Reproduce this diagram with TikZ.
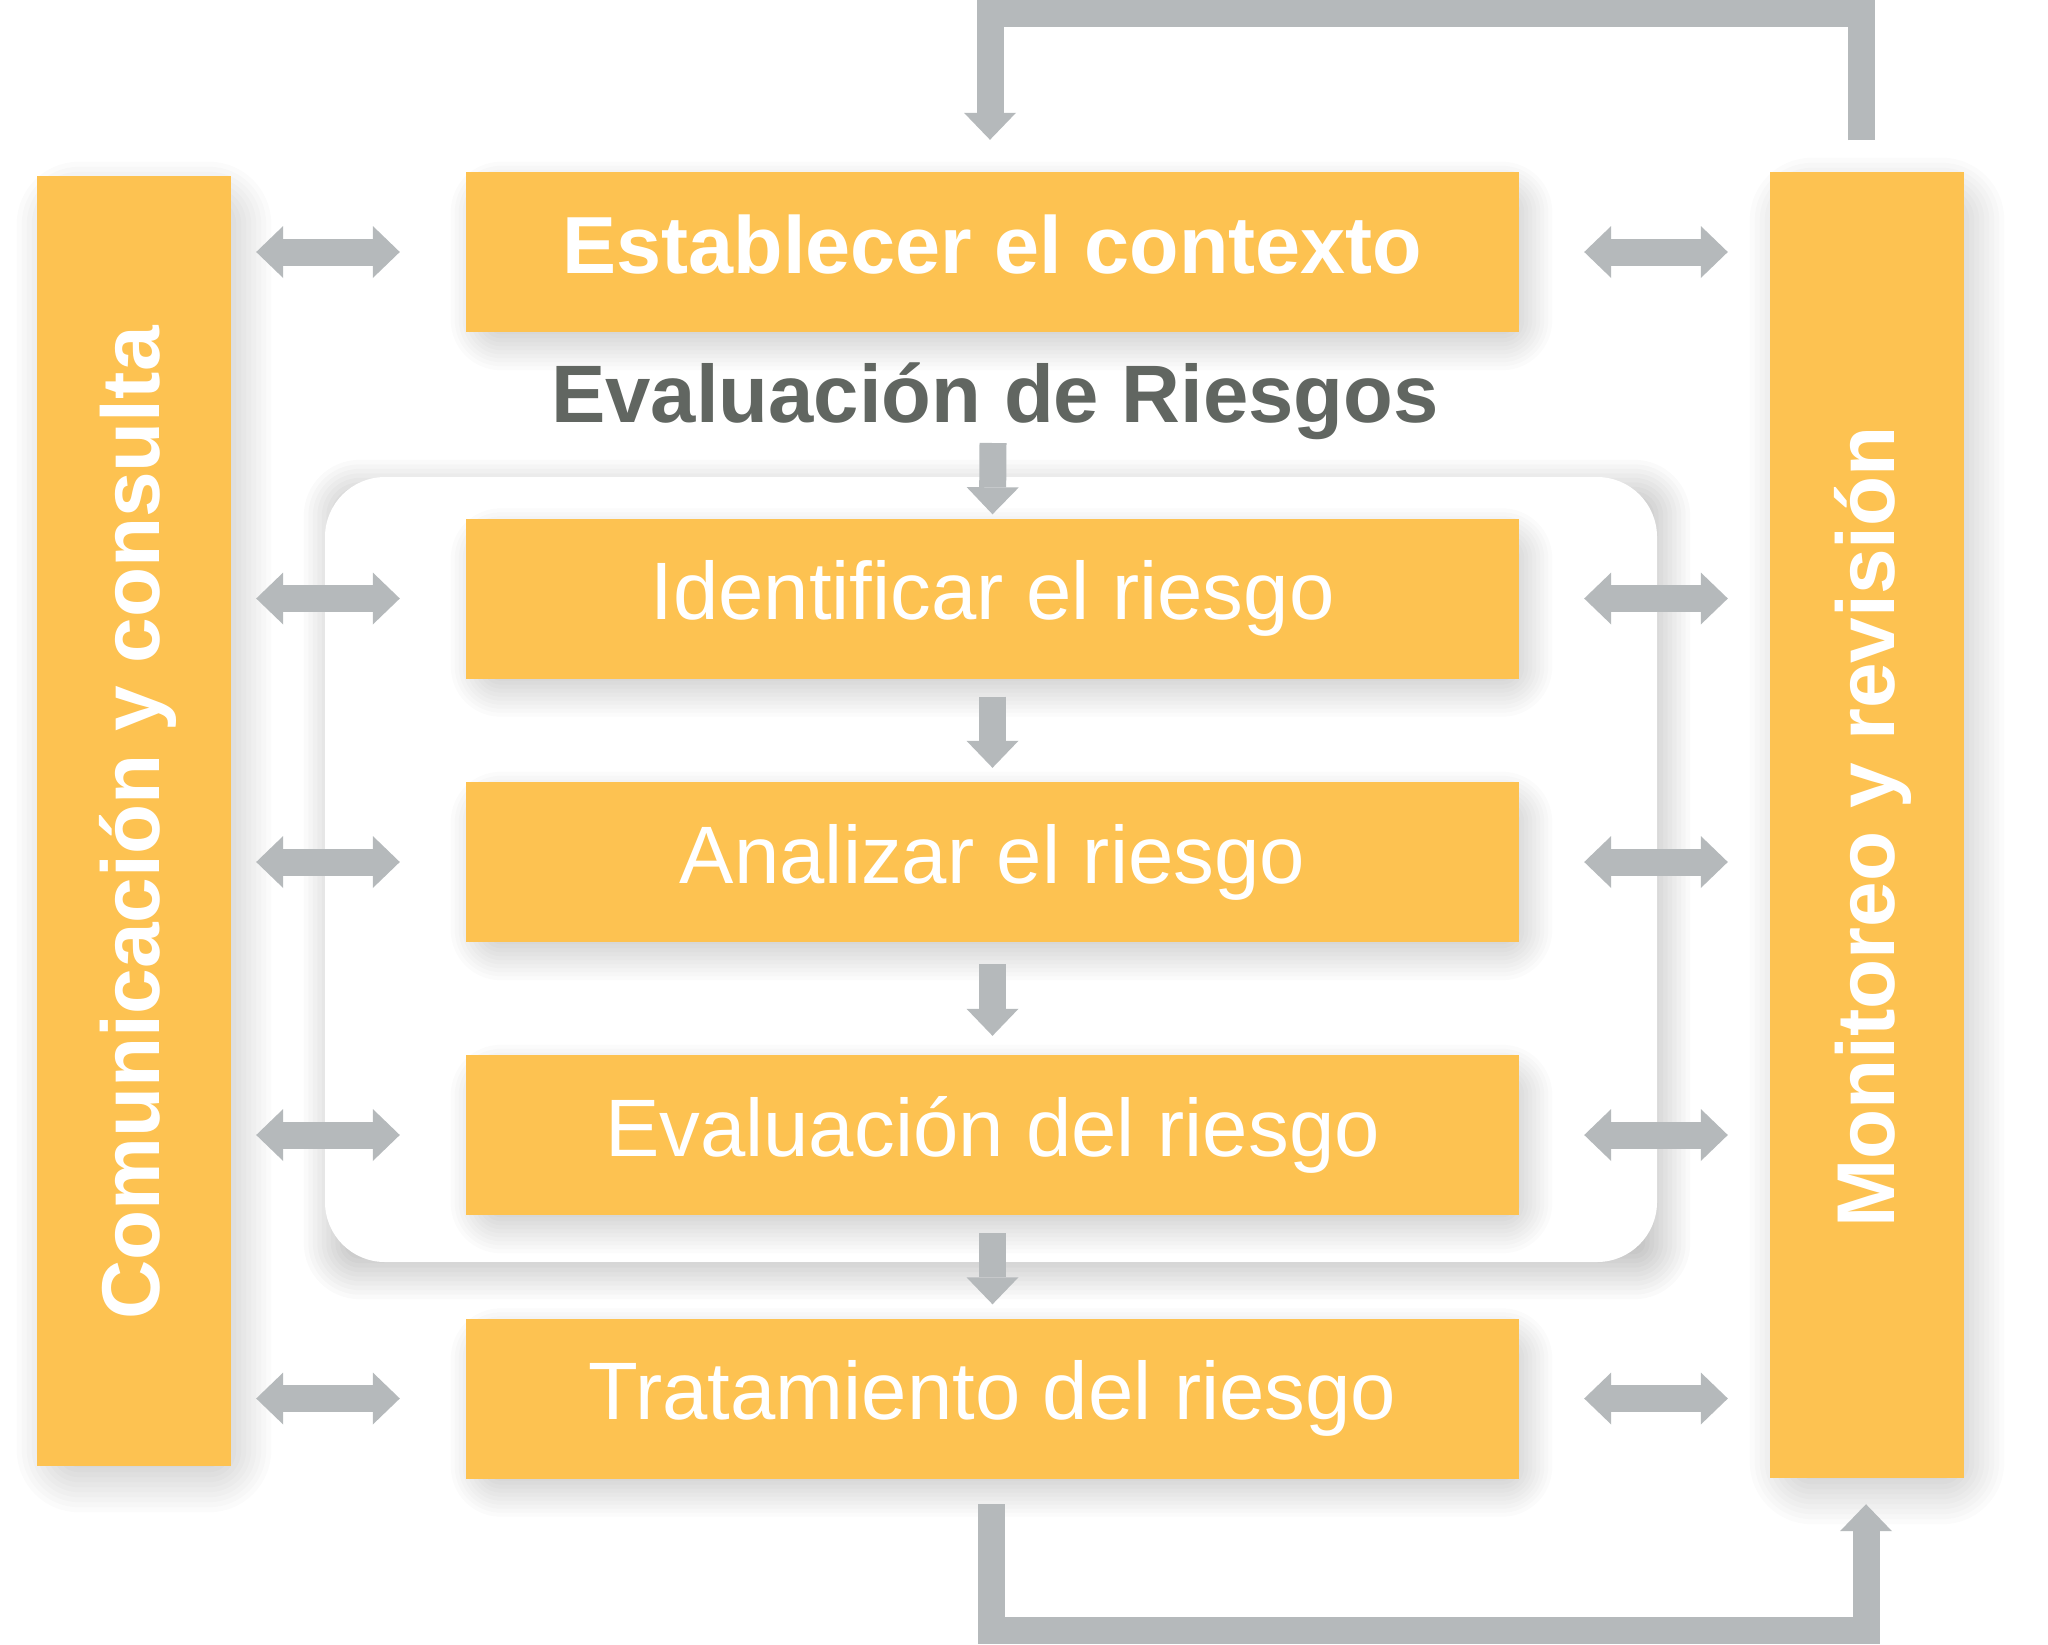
\documentclass[tikz,border=0pt]{standalone}
\usepackage{fontspec}
\setmainfont{Liberation Sans}
\usetikzlibrary{arrows.meta}
\definecolor{boxorange}{HTML}{FDC251}
\definecolor{arrowgray}{HTML}{B5B9BB}
\definecolor{titlegray}{HTML}{616661}
\pgfdeclarelayer{canvasbg}
\pgfdeclarelayer{panelshadow}
\pgfdeclarelayer{panellayer}
\pgfdeclarelayer{boxshadow}
\pgfsetlayers{canvasbg,panelshadow,panellayer,boxshadow,main}
\tikzset{
  stepbox/.style={fill=boxorange, draw=none, minimum width=1053pt, minimum height=160pt, inner sep=0pt,
    text=white, font=\fontsize{81.5pt}{96pt}\selectfont, text height=59pt, text depth=17pt},
  sidebar/.style={fill=boxorange, draw=none, minimum width=194pt, inner sep=0pt},
  sidelabel/.style={text=white, font=\fontsize{82pt}{96pt}\selectfont\bfseries, inner sep=0pt, rotate=90, anchor=base},
  panel/.style={fill=white, draw=none, rounded corners=60pt},
  shadelayer/.style={fill=black, opacity=#1, draw=none},
  gtip/.tip={Triangle[width=52pt,length=27pt,line width=0pt]},
  flow/.style={draw=arrowgray, line width=27pt, -gtip},
  dbl/.style={draw=arrowgray, line width=27pt, gtip-gtip},
  loopline/.style={draw=arrowgray, line width=27pt, line join=miter, -gtip},
}
% soft shadow behind a named node: #1 node, #2 dx, #3 dy, #4 spread step, #5 opacity per layer
\newcommand\shadebehind[5]{%
  \foreach \i [evaluate=\i as \e using {-6*#4+#4*\i}, evaluate=\i as \r using {2+#4*\i}] in {0,...,12}{%
    \fill[shadelayer=#5, rounded corners=\r pt]
      ([shift={({#2-\e},{#3-\e})}]#1.north west) rectangle ([shift={({#2+\e},{#3+\e})}]#1.south east);
  }%
}
\begin{document}
\begin{tikzpicture}[x=1pt,y=-1pt]
\useasboundingbox (0,0) rectangle (2048,1644);
\begin{pgfonlayer}{canvasbg}
\fill[white] (0,0) rectangle (2048,1644);
\end{pgfonlayer}

% panel of the risk assessment
\begin{pgfonlayer}{panellayer}
\node[panel, minimum width=1332pt, minimum height=785pt, inner sep=0pt] (pan) at (991,869.5) {};
\end{pgfonlayer}
\begin{pgfonlayer}{panelshadow}
\shadebehind{pan}{6}{10}{4.5}{0.018}
\end{pgfonlayer}

% side bars
\node[sidebar, minimum height=1290pt] (lbar) at (134,821) {};
\node[sidebar, minimum height=1306pt] (rbar) at (1867,825) {};
\node[sidelabel] (llab) at (159,823) {Comunicación y consulta};
\node[sidelabel] (rlab) at (1894,827) {Monitoreo y revisión};

% steps
\node[stepbox, font=\fontsize{81pt}{96pt}\selectfont\bfseries] (b1) at (992.5,252) {Establecer el contexto};
\node[stepbox] (b2) at (992.5,598.5) {Identificar el riesgo};
\node[stepbox] (b3) at (992.5,862) {Analizar el riesgo};
\node[stepbox] (b4) at (992.5,1135) {Evaluación del riesgo};
\node[stepbox] (b5) at (992.5,1398.5) {Tratamiento del riesgo};

\begin{pgfonlayer}{boxshadow}
\foreach \n in {b1,b2,b3,b4,b5}{\shadebehind{\n}{9}{14}{4}{0.017}}
\foreach \n in {lbar,rbar}{\shadebehind{\n}{10}{16}{5}{0.017}}
\end{pgfonlayer}

% title
\node[anchor=base, inner sep=0pt, text=titlegray, font=\fontsize{81.5pt}{96pt}\selectfont\bfseries] (title) at (995,422)
  {Evaluación de Riesgos};

% vertical flow arrows
\coordinate (tstart) at (993,443);
\draw[flow] (tstart) -- ([yshift=4pt]b2.north);
\draw[flow] ([yshift=-18pt]b2.south) -- ([yshift=14pt]b3.north);
\draw[flow] ([yshift=-22pt]b3.south) -- ([yshift=19pt]b4.north);
\draw[flow] ([yshift=-18pt]b4.south) -- ([yshift=14pt]b5.north);

% double arrows
\foreach \b in {b1,b2,b3,b4,b5}{
  \draw[dbl] ([xshift=25pt]lbar.east |- \b.west) -- ([xshift=-66pt]\b.west);
  \draw[dbl] ([xshift=65pt]\b.east) -- ([xshift=-42pt]rbar.west |- \b.east);
}

% feedback loops
\coordinate (ltop) at (1861,140);
\coordinate (lbot) at (991,1504);
\draw[loopline] (ltop) -- (1861,13) -- (990,13) -- ([yshift=32pt]b1.north -| 990,0);
\draw[loopline] (lbot) -- (991,1630.5) -- (1866,1630.5) -- ([yshift=-26pt]rbar.south -| 1866,0);
\end{tikzpicture}
\end{document}
